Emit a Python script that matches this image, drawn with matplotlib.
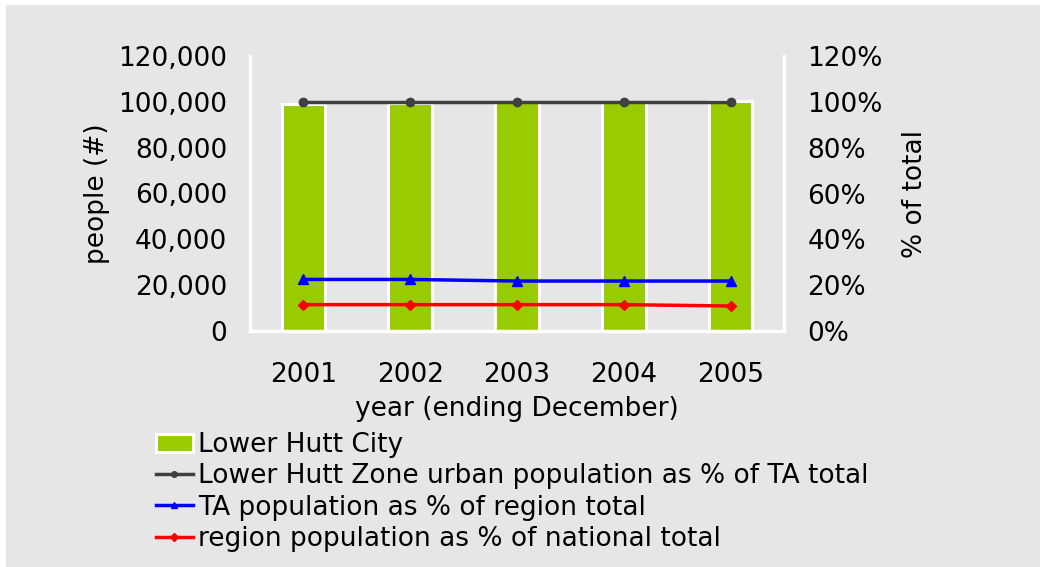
import matplotlib.pyplot as plt
from matplotlib.patches import Rectangle
from matplotlib.ticker import FuncFormatter

years = ['2001', '2002', '2003', '2004', '2005']
city_pop = [98900, 99600, 99900, 100100, 100300]
urban_pct = [100, 100, 100, 100, 100]
ta_pct = [22.5, 22.5, 21.8, 21.8, 21.8]
region_pct = [11.5, 11.5, 11.5, 11.5, 10.9]

BG = '#e6e6e6'
FS = 19

plt.rcParams['font.family'] = ['DejaVu Sans']

fig = plt.figure(figsize=(10.4, 5.67), dpi=100)
fig.patch.set_facecolor('white')
fig.patches.append(Rectangle((6 / 1040, 0), 1, 1 - 5 / 567, transform=fig.transFigure,
                             facecolor=BG, edgecolor='none', zorder=-10))

ax = fig.add_axes([250 / 1040, 1 - 331 / 567, 534 / 1040, 275 / 567])
ax.set_facecolor(BG)
x = list(range(len(years)))
bars = ax.bar(x, city_pop, width=0.41, color='#99cc00', edgecolor='white', linewidth=2.2,
              label='Lower Hutt City', zorder=2)
ax.set_xlim(-0.5, 4.5)
ax.set_ylim(0, 120000)
ax.set_yticks(range(0, 120001, 20000))
ax.yaxis.set_major_formatter(FuncFormatter(lambda v, p: '{:,.0f}'.format(v)))
ax.set_xticks(x)
ax.set_xticklabels(years)
ax.tick_params(axis='both', length=0, labelsize=FS, colors='black')
ax.tick_params(axis='y', pad=16.5)
ax.tick_params(axis='x', pad=22)
for s in ['top', 'right']:
    ax.spines[s].set_visible(False)
for s in ['left', 'bottom']:
    ax.spines[s].set_color('white')
    ax.spines[s].set_linewidth(2.5)
ax.set_ylabel('people (#)', fontsize=FS, labelpad=6)
ax.set_xlabel('year (ending December)', fontsize=FS, labelpad=6)

ax2 = ax.twinx()
ax2.set_ylim(0, 120)
ax2.set_yticks(range(0, 121, 20))
ax2.yaxis.set_major_formatter(FuncFormatter(lambda v, p: '{:.0f}%'.format(v)))
ax2.tick_params(axis='y', length=0, labelsize=FS, pad=17)
for s in ['top', 'left', 'bottom']:
    ax2.spines[s].set_visible(False)
ax2.spines['right'].set_color('white')
ax2.spines['right'].set_linewidth(2.5)
l1, = ax2.plot(x, urban_pct, color='#404040', lw=2.5, marker='o', ms=6,
               label='Lower Hutt Zone urban population as % of TA total')
l2, = ax2.plot(x, ta_pct, color='#0000ff', lw=2.5, marker='^', ms=7,
               label='TA population as % of region total')
l3, = ax2.plot(x, region_pct, color='#ff0000', lw=2.5, marker='D', ms=5,
               label='region population as % of national total')
ax2.set_ylabel('% of total', fontsize=FS, labelpad=14)

leg = fig.legend(handles=[bars, l1, l2, l3], loc='upper left',
                 bbox_to_anchor=(156 / 1040, 1 - 432 / 567), frameon=False,
                 fontsize=FS, borderpad=0, labelspacing=0.2, handlelength=1.4,
                 handletextpad=0.2, borderaxespad=0)
for h in leg.legend_handles[1:]:
    h.set_markersize(4)

fig.savefig('out.png', dpi=100, facecolor=fig.get_facecolor())
